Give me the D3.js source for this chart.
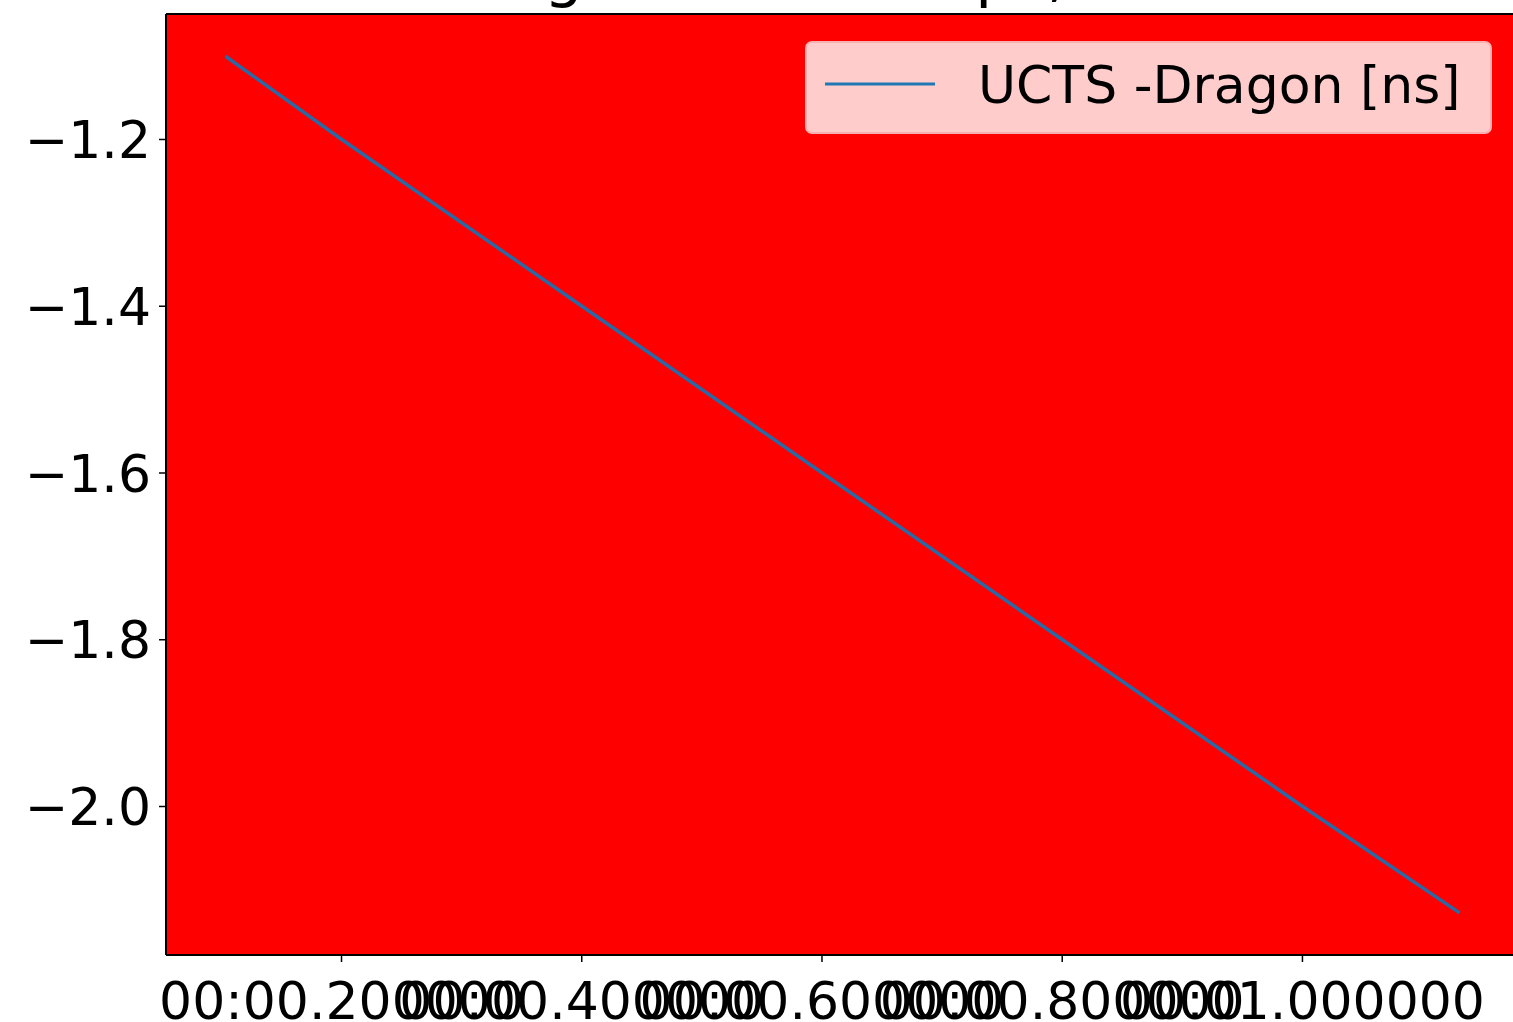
<!DOCTYPE html>
<html>
<head>
<meta charset="utf-8">
<script src="https://cdn.jsdelivr.net/npm/d3@7"></script>
<style>
  body { margin: 0; background: #ffffff; }
  svg { display: block; font-family: "DejaVu Sans", sans-serif; }
</style>
</head>
<body>
<div class="chart"></div>
<script>
// Values (time in seconds, difference in ns)
var times = [0.105, 0.2, 0.4, 0.6, 0.8, 1.0, 1.13];
var diffs = [-1.102, -1.2, -1.4, -1.6, -1.8, -2.0, -2.127];

var xTicks = [0.2, 0.4, 0.6, 0.8, 1.0];
var xTickLabels = ["00:00.200000", "00:00.400000", "00:00.600000", "00:00.800000", "00:01.000000"];
var yTicks = [-1.2, -1.4, -1.6, -1.8, -2.0];
var yTickLabels = ["\u22121.2", "\u22121.4", "\u22121.6", "\u22121.8", "\u22122.0"];

var seriesName = "UCTS -Dragon [ns]";
var titleText = "1654 UCTS - Dragon timestamps, run 4208 - Dragon";

var width = 1513;
var height = 1022;
var margin = {top: 14, right: -6, bottom: 67, left: 166};
var plotW = width - margin.left - margin.right;
var plotH = height - margin.top - margin.bottom;

var x = d3.scaleLinear()
    .domain([0.0543, 1.1807])
    .range([0, plotW]);

var y = d3.scaleLinear()
    .domain([-2.1787, -1.0501])
    .range([plotH, 0]);

var svg = d3.select(".chart").append("svg")
    .attr("width", width)
    .attr("height", height);

// Title, cut off at the top edge of the picture
svg.append("text")
    .attr("x", margin.left + plotW / 2)
    .attr("y", -5)
    .attr("text-anchor", "middle")
    .attr("font-size", 62)
    .attr("fill", "#000")
    .text(titleText);

svg.append("defs").append("clipPath")
    .attr("id", "plotclip")
  .append("rect")
    .attr("width", plotW)
    .attr("height", plotH);

var g = svg.append("g")
    .attr("transform", "translate(" + margin.left + "," + margin.top + ")");

// Red axes background
g.append("rect")
    .attr("width", plotW)
    .attr("height", plotH)
    .attr("fill", "#ff0000");

var data = times.map(function(t, i) { return {t: t, v: diffs[i]}; });

var line = d3.line()
    .x(function(d) { return x(d.t); })
    .y(function(d) { return y(d.v); });

g.append("path")
    .datum(data)
    .attr("clip-path", "url(#plotclip)")
    .attr("fill", "none")
    .attr("stroke", "#2c68a3")
    .attr("stroke-width", 3.5)
    .attr("stroke-linecap", "square")
    .attr("d", line);

// Axes
var xAxis = d3.axisBottom(x)
    .tickValues(xTicks)
    .tickFormat(function(d, i) { return xTickLabels[i]; })
    .tickSize(7)
    .tickPadding(8);

var yAxis = d3.axisLeft(y)
    .tickValues(yTicks)
    .tickFormat(function(d, i) { return yTickLabels[i]; })
    .tickSize(7)
    .tickPadding(8);

var gx = g.append("g")
    .attr("transform", "translate(0," + plotH + ")")
    .call(xAxis);

var gy = g.append("g")
    .call(yAxis);

[gx, gy].forEach(function(a) {
    a.select(".domain").remove();
    a.selectAll(".tick line").attr("stroke", "#000").attr("stroke-width", 1.5);
    a.selectAll(".tick text")
        .attr("font-family", "DejaVu Sans, sans-serif")
        .attr("font-size", 52)
        .attr("fill", "#000");
});
gx.selectAll(".tick text").attr("dy", "0.95em");
gy.selectAll(".tick text").attr("dy", "0.36em");

// Spines (left, top, bottom)
g.append("line").attr("x1", 0).attr("x2", 0).attr("y1", 0).attr("y2", plotH)
    .attr("stroke", "#000").attr("stroke-width", 2);
g.append("line").attr("x1", 0).attr("x2", plotW).attr("y1", 0).attr("y2", 0)
    .attr("stroke", "#000").attr("stroke-width", 2);
g.append("line").attr("x1", 0).attr("x2", plotW).attr("y1", plotH).attr("y2", plotH)
    .attr("stroke", "#000").attr("stroke-width", 2);

// Legend
var legend = svg.append("g")
    .attr("transform", "translate(806,42)");

legend.append("rect")
    .attr("width", 685)
    .attr("height", 91)
    .attr("rx", 6)
    .attr("fill", "#ffcccc")
    .attr("stroke", "#f7b0b0")
    .attr("stroke-width", 2);

legend.append("line")
    .attr("x1", 19)
    .attr("x2", 129)
    .attr("y1", 42)
    .attr("y2", 42)
    .attr("stroke", "#1f77b4")
    .attr("stroke-width", 3);

legend.append("text")
    .attr("x", 172)
    .attr("y", 61)
    .attr("font-size", 52)
    .attr("fill", "#000")
    .text(seriesName);
</script>
</body>
</html>
